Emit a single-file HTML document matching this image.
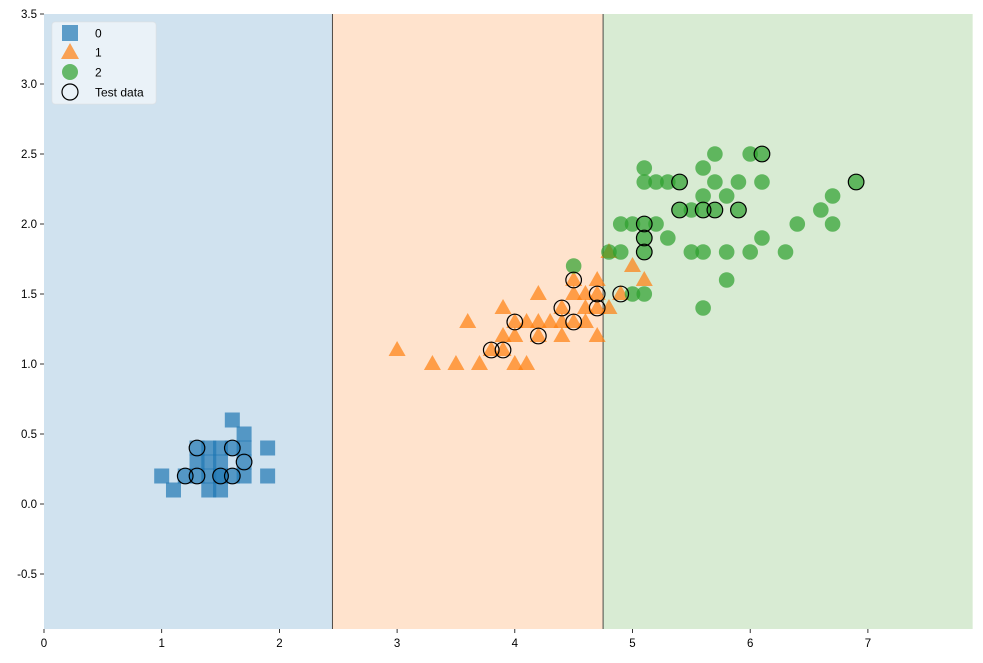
<!DOCTYPE html>
<html><head><meta charset="utf-8"><style>
body{margin:0;background:#fff;}
svg{display:block;font-family:"Liberation Sans",sans-serif;}
</style></head><body>
<svg id="chart" width="983" height="663" viewBox="0 0 983 663" xmlns="http://www.w3.org/2000/svg"></svg>
<script>
const thresholds = [2.45, 4.75];
const xTicks = [0,1,2,3,4,5,6,7];
const yTicks = [-0.5,0.0,0.5,1.0,1.5,2.0,2.5,3.0,3.5];
const class0 = [[1.4,0.2],[1.3,0.2],[1.5,0.2],[1.7,0.4],[1.4,0.3],[1.5,0.1],[1.6,0.2],[1.4,0.1],[1.1,0.1],[1.2,0.2],[1.5,0.4],[1.3,0.4],[1.7,0.3],[1.5,0.3],[1.7,0.2],[1.0,0.2],[1.7,0.5],[1.9,0.2],[1.6,0.4],[1.6,0.6],[1.9,0.4],[1.3,0.3],[1.4,0.4],[1.5,0.2]];
const class1 = [[4.7,1.4],[4.5,1.5],[4.9,1.5],[4.0,1.3],[4.6,1.5],[4.5,1.3],[4.7,1.6],[3.3,1.0],[4.6,1.3],[3.9,1.4],[3.5,1.0],[4.2,1.5],[4.0,1.0],[3.6,1.3],[4.4,1.4],[4.1,1.0],[3.9,1.1],[4.8,1.8],[4.7,1.2],[4.3,1.3],[4.8,1.4],[5.0,1.7],[3.8,1.1],[3.7,1.0],[3.9,1.2],[5.1,1.6],[4.5,1.6],[4.7,1.5],[4.4,1.3],[4.1,1.3],[4.4,1.2],[4.6,1.4],[4.0,1.2],[4.2,1.3],[4.2,1.2],[3.0,1.1]];
const class2 = [[6.0,2.5],[5.1,1.9],[5.9,2.1],[5.6,1.8],[5.8,2.2],[6.6,2.1],[4.5,1.7],[6.3,1.8],[5.8,1.8],[6.1,2.5],[5.1,2.0],[5.3,1.9],[5.5,2.1],[5.0,2.0],[5.1,2.4],[5.3,2.3],[5.5,1.8],[6.7,2.2],[6.9,2.3],[5.0,1.5],[5.7,2.3],[4.9,2.0],[6.7,2.0],[4.9,1.8],[5.7,2.1],[6.0,1.8],[4.8,1.8],[5.6,2.1],[5.8,1.6],[6.1,1.9],[6.4,2.0],[5.6,2.2],[5.1,1.5],[5.6,1.4],[6.1,2.3],[5.6,2.4],[5.4,2.1],[5.1,2.3],[5.9,2.3],[5.7,2.5],[5.2,2.3],[5.2,2.0],[5.4,2.3],[5.1,1.8]];
const testData = [[1.3,0.4],[1.2,0.2],[1.3,0.2],[1.5,0.2],[1.6,0.4],[1.6,0.2],[1.7,0.3],[3.8,1.1],[3.9,1.1],[4.0,1.3],[4.2,1.2],[4.4,1.4],[4.5,1.6],[4.5,1.3],[4.7,1.5],[4.7,1.4],[4.9,1.5],[5.1,2.0],[5.1,1.9],[5.1,1.8],[5.4,2.3],[5.4,2.1],[5.6,2.1],[5.7,2.1],[5.9,2.1],[6.1,2.5],[6.9,2.3]];

const X0=44, XU=117.7, Y0=504, YU=140;
const xMin=0, xMax=7.89, yMin=-0.893, yMax=3.5;
const sx=v=>X0+v*XU, sy=v=>Y0-v*YU;
const svg=document.getElementById('chart');
const NS='http://www.w3.org/2000/svg';
function mk(tag,attrs,parent){const e=document.createElementNS(NS,tag);for(const k in attrs)e.setAttribute(k,attrs[k]);(parent||svg).appendChild(e);return e;}

// regions
const bounds=[xMin,...thresholds,xMax];
const regionColors=['#d0e2ef','#ffe3cd','#d8ebd3'];
for(let i=0;i<3;i++){
  const r=mk('rect',{x:sx(bounds[i]),y:sy(yMax),width:sx(bounds[i+1])-sx(bounds[i]),height:sy(yMin)-sy(yMax),fill:regionColors[i]});
  
  
}
thresholds.forEach((t,i)=>{
  const l=mk('line',{x1:sx(t),x2:sx(t),y1:sy(yMax),y2:sy(yMin),stroke:'#222','stroke-width':0.8});
  
  
});

// ticks
xTicks.forEach(v=>{
  const x=sx(v);
  mk('line',{x1:x,x2:x,y1:sy(yMin),y2:sy(yMin)+4,stroke:'#000','stroke-width':0.8});
  const t=mk('text',{x:x,y:sy(yMin)+18,'text-anchor':'middle','font-size':11.5,fill:'#000'});
  t.textContent=v;
  
  
});
yTicks.forEach(v=>{
  const y=sy(v);
  mk('line',{x1:X0,x2:X0-4,y1:y,y2:y,stroke:'#000','stroke-width':0.8});
  const t=mk('text',{x:X0-7,y:y+4,'text-anchor':'end','font-size':11.5,fill:'#000'});
  t.textContent=v.toFixed(1);
  
  
});

// points
class0.forEach(p=>{
  const e=mk('rect',{x:sx(p[0])-7.5,y:sy(p[1])-7.5,width:15,height:15,fill:'#1f77b4','fill-opacity':0.7});
  
  
});
class1.forEach(p=>{
  const x=sx(p[0]),y=sy(p[1]);
  const e=mk('polygon',{points:`${x},${y-9} ${x+8.5},${y+6} ${x-8.5},${y+6}`,fill:'#ff7f0e','fill-opacity':0.7});
  
  
});
class2.forEach(p=>{
  const e=mk('circle',{cx:sx(p[0]),cy:sy(p[1]),r:7.8,fill:'#2ca02c','fill-opacity':0.7});
  
  
});
testData.forEach(p=>{
  const e=mk('circle',{cx:sx(p[0]),cy:sy(p[1]),r:7.8,fill:'none',stroke:'#000','stroke-width':1.2});
  
  
});

// legend
const lg=mk('g',{});


mk('rect',{x:52,y:22,width:104,height:82,rx:3,fill:'#fff','fill-opacity':0.55,stroke:'#ddd','stroke-opacity':0.5},lg);
const ly=[33,52,72,92];
mk('rect',{x:62,y:25,width:16,height:16,fill:'#1f77b4','fill-opacity':0.7},lg);
mk('polygon',{points:`70,43 79,59 61,59`,fill:'#ff7f0e','fill-opacity':0.7},lg);
mk('circle',{cx:70,cy:72,r:8,fill:'#2ca02c','fill-opacity':0.7},lg);
mk('circle',{cx:70,cy:92,r:8,fill:'none',stroke:'#000','stroke-width':1.2},lg);
['0','1','2','Test data'].forEach((s,i)=>{
  const t=mk('text',{x:95,y:ly[i]+4.5,'font-size':12,fill:'#000'},lg);
  t.textContent=s;
  
  
});
</script>
</body></html>
